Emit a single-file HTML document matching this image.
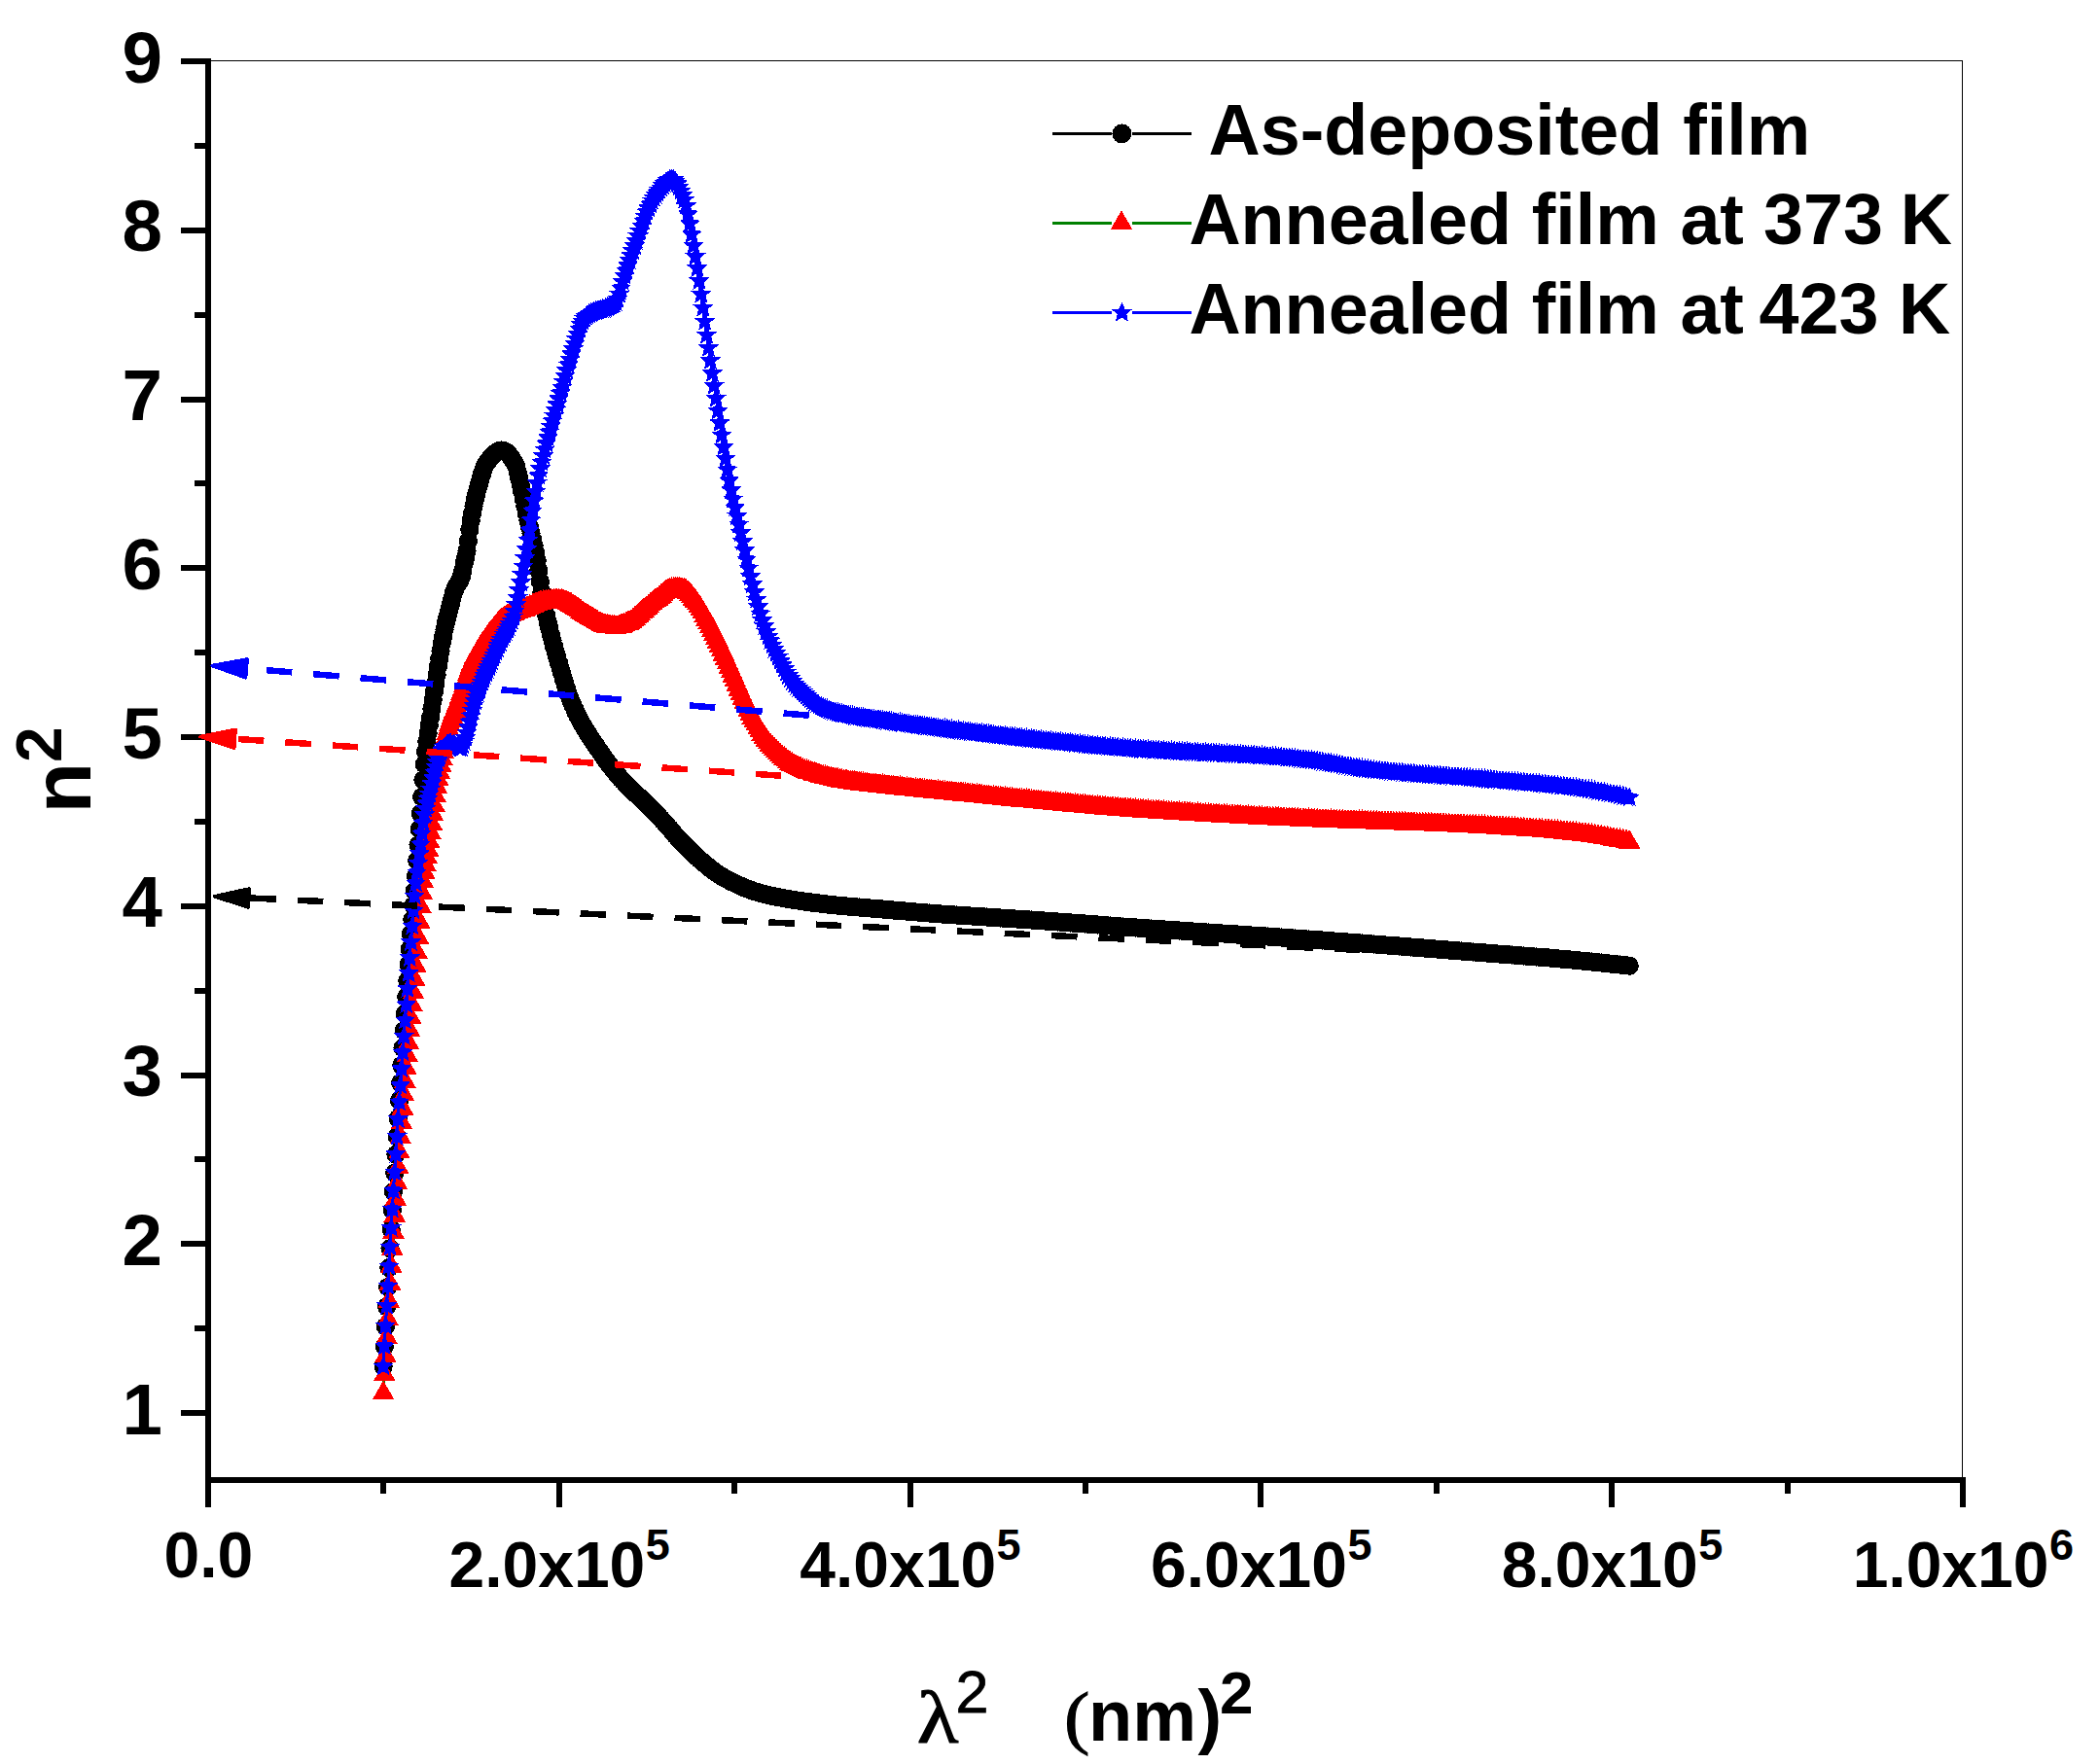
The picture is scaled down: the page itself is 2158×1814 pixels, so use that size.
<!DOCTYPE html><html><head><meta charset="utf-8"><title>n2 vs lambda2</title>
<style>html,body{margin:0;padding:0;background:#fff}svg{display:block}rect,path,circle,line,polyline{shape-rendering:crispEdges}text{font-family:"Liberation Sans",sans-serif;font-weight:bold;fill:#000}.ser{font-family:"Liberation Serif",serif;font-weight:normal}.reg{font-weight:normal}</style></head><body>
<svg width="2158" height="1814" viewBox="0 0 2158 1814">
<rect width="2158" height="1814" fill="#fff"/>
<defs>
<marker id="mc" markerWidth="24" markerHeight="24" refX="12" refY="12" markerUnits="userSpaceOnUse" overflow="visible"><circle cx="12" cy="12" r="9.6" fill="#000"/></marker>
<marker id="mt" markerWidth="26" markerHeight="26" refX="13" refY="13" markerUnits="userSpaceOnUse" overflow="visible"><path transform="translate(13,13)" d="M0,-13.07L11.30,6.53L-11.30,6.53Z" fill="#f00"/></marker>
<marker id="ms" markerWidth="26" markerHeight="26" refX="13" refY="13" markerUnits="userSpaceOnUse" overflow="visible"><path transform="translate(13,13)" d="M0.00,-11.20L2.96,-4.08L10.65,-3.46L4.79,1.56L6.58,9.06L0.00,5.04L-6.58,9.06L-4.79,1.56L-10.65,-3.46L-2.96,-4.08Z" fill="#00f"/></marker>
</defs>
<rect x="217" y="62" width="1801" height="1.3" fill="#000"/>
<rect x="2017" y="62" width="1.3" height="1458" fill="#000"/>
<polyline fill="none" stroke="#000" stroke-width="3" stroke-linejoin="round" marker-start="url(#mc)" marker-mid="url(#mc)" marker-end="url(#mc)" points="394.1,1405.3 395.3,1384.6 396.4,1364.1 397.6,1343.7 398.7,1323.6 399.9,1303.6 401.0,1283.7 402.2,1264.1 403.4,1244.6 404.5,1225.3 405.7,1206.3 406.9,1187.4 408.1,1168.7 409.3,1150.2 410.5,1131.8 411.6,1113.6 412.8,1095.5 414.0,1077.6 415.2,1059.9 416.5,1042.5 417.7,1025.3 418.9,1008.5 420.1,992.0 421.3,975.9 422.5,960.5 423.8,945.8 425.0,931.2 426.2,916.4 427.5,901.0 428.7,885.1 430.0,868.9 431.2,852.6 432.5,836.5 433.7,819.4 435.0,802.1 436.3,786.0 437.5,772.8 438.8,762.5 440.1,753.7 441.3,745.6 442.6,737.4 443.9,728.8 445.2,720.0 446.5,711.3 447.8,702.6 449.1,694.0 450.4,685.5 451.7,677.3 453.0,669.3 454.3,661.4 455.7,653.9 457.0,647.2 458.3,641.2 459.6,635.7 461.0,630.5 462.3,625.4 463.6,620.3 465.0,614.9 466.3,609.7 467.7,605.8 469.0,603.0 470.4,600.9 471.8,598.8 473.1,596.2 474.5,592.7 475.9,586.5 477.2,579.3 478.6,573.3 480.0,566.5 481.4,556.5 482.8,544.8 484.2,535.4 485.6,527.5 487.0,520.3 488.4,513.8 489.8,507.9 491.2,502.6 492.6,497.7 494.0,492.8 495.5,487.7 496.9,483.1 498.3,479.4 499.8,477.0 501.2,474.9 502.6,473.0 504.1,471.1 505.5,469.4 507.0,467.9 508.4,466.5 509.9,465.3 511.4,464.4 512.8,463.7 514.3,463.2 515.8,463.0 517.3,463.2 518.7,463.7 520.2,464.6 521.7,465.9 523.2,467.5 524.7,469.4 526.2,471.5 527.7,473.9 529.2,476.5 530.7,479.7 532.2,485.1 533.7,491.8 535.3,498.6 536.8,505.5 538.3,512.9 539.8,520.5 541.4,528.1 542.9,535.3 544.5,542.1 546.0,548.5 547.6,554.7 549.1,561.3 550.7,568.4 552.2,576.6 553.8,586.9 555.4,598.2 556.9,608.9 558.5,617.6 560.1,625.5 561.7,632.8 563.3,639.7 564.8,646.3 566.4,652.7 568.0,658.9 569.6,664.8 571.2,670.5 572.8,676.1 574.5,681.5 576.1,687.1 577.7,692.5 579.3,698.0 580.9,703.2 582.6,708.3 584.2,713.1 585.8,717.6 587.5,721.7 589.1,725.6 590.8,729.4 592.4,732.9 594.1,736.4 595.7,739.6 597.4,742.7 599.1,745.7 600.7,748.5 602.4,751.3 604.1,753.9 605.7,756.5 607.4,759.0 609.1,761.5 610.8,764.0 612.5,766.6 614.2,769.1 615.9,771.6 617.6,774.1 619.3,776.6 621.0,779.0 622.7,781.4 624.5,783.8 626.2,786.1 627.9,788.3 629.6,790.5 631.4,792.6 633.1,794.7 634.9,796.8 636.6,798.8 638.3,800.8 640.1,802.7 641.9,804.6 643.6,806.5 645.4,808.3 647.1,810.2 648.9,811.9 650.7,813.7 652.5,815.3 654.2,816.9 656.0,818.5 657.8,820.0 659.6,821.6 661.4,823.3 663.2,825.1 665.0,826.8 666.8,828.6 668.6,830.5 670.4,832.3 672.2,834.2 674.1,836.1 675.9,838.0 677.7,840.0 679.5,841.9 681.4,843.9 683.2,845.9 685.1,848.0 686.9,850.2 688.8,852.3 690.6,854.5 692.5,856.6 694.3,858.8 696.2,860.9 698.1,862.9 699.9,864.9 701.8,866.9 703.7,868.8 705.6,870.7 707.4,872.6 709.3,874.5 711.2,876.3 713.1,878.2 715.0,879.9 716.9,881.7 718.8,883.4 720.7,885.0 722.7,886.7 724.6,888.3 726.5,889.9 728.4,891.5 730.3,893.1 732.3,894.6 734.2,896.0 736.2,897.4 738.1,898.8 740.0,900.0 742.0,901.2 744.0,902.4 745.9,903.5 747.9,904.5 749.8,905.6 751.8,906.6 753.8,907.5 755.7,908.5 757.7,909.4 759.7,910.3 761.7,911.1 763.7,912.0 765.7,912.9 767.7,913.7 769.7,914.5 771.7,915.3 773.7,916.0 775.7,916.7 777.7,917.3 779.7,917.9 781.8,918.5 783.8,919.0 785.8,919.5 787.8,920.0 789.9,920.5 791.9,920.9 794.0,921.4 796.0,921.8 798.1,922.2 800.1,922.6 802.2,923.0 804.2,923.4 806.3,923.8 808.4,924.1 810.4,924.5 812.5,924.8 814.6,925.2 816.7,925.5 818.8,925.8 820.9,926.1 823.0,926.4 825.1,926.8 827.2,927.1 829.3,927.4 831.4,927.6 833.5,927.9 835.6,928.2 837.7,928.5 839.8,928.7 842.0,929.0 844.1,929.3 846.2,929.5 848.4,929.8 850.5,930.0 852.7,930.2 854.8,930.5 857.0,930.7 859.1,930.9 861.3,931.1 863.4,931.3 865.6,931.5 867.8,931.7 870.0,931.9 872.1,932.1 874.3,932.3 876.5,932.5 878.7,932.7 880.9,932.9 883.1,933.0 885.3,933.2 887.5,933.4 889.7,933.6 891.9,933.7 894.1,933.9 896.3,934.1 898.5,934.3 900.8,934.5 903.0,934.7 905.2,934.8 907.5,935.0 909.7,935.2 911.9,935.4 914.2,935.6 916.4,935.8 918.7,936.0 920.9,936.2 923.2,936.4 925.5,936.6 927.7,936.8 930.0,937.0 932.3,937.2 934.6,937.4 936.8,937.6 939.1,937.7 941.4,937.9 943.7,938.1 946.0,938.3 948.3,938.5 950.6,938.7 952.9,938.9 955.2,939.0 957.5,939.2 959.9,939.4 962.2,939.6 964.5,939.7 966.8,939.9 969.2,940.1 971.5,940.2 973.8,940.4 976.2,940.5 978.5,940.7 980.9,940.9 983.2,941.0 985.6,941.2 988.0,941.3 990.3,941.5 992.7,941.6 995.1,941.8 997.4,941.9 999.8,942.1 1002.2,942.2 1004.6,942.4 1007.0,942.5 1009.4,942.7 1011.8,942.9 1014.2,943.0 1016.6,943.2 1019.0,943.3 1021.4,943.5 1023.8,943.7 1026.2,943.8 1028.7,944.0 1031.1,944.1 1033.5,944.3 1035.9,944.5 1038.4,944.6 1040.8,944.8 1043.3,944.9 1045.7,945.1 1048.2,945.3 1050.6,945.4 1053.1,945.6 1055.5,945.7 1058.0,945.9 1060.5,946.1 1063.0,946.2 1065.4,946.4 1067.9,946.6 1070.4,946.7 1072.9,946.9 1075.4,947.1 1077.9,947.3 1080.4,947.4 1082.9,947.6 1085.4,947.8 1087.9,948.0 1090.4,948.1 1092.9,948.3 1095.4,948.5 1098.0,948.7 1100.5,948.9 1103.0,949.1 1105.6,949.3 1108.1,949.4 1110.6,949.6 1113.2,949.8 1115.7,950.0 1118.3,950.2 1120.8,950.4 1123.4,950.6 1126.0,950.8 1128.5,951.0 1131.1,951.2 1133.7,951.4 1136.2,951.6 1138.8,951.8 1141.4,952.0 1144.0,952.2 1146.6,952.4 1149.2,952.6 1151.8,952.8 1154.4,953.0 1157.0,953.1 1159.6,953.3 1162.2,953.5 1164.8,953.7 1167.5,953.9 1170.1,954.1 1172.7,954.3 1175.4,954.5 1178.0,954.7 1180.6,954.8 1183.3,955.0 1185.9,955.2 1188.6,955.4 1191.2,955.6 1193.9,955.8 1196.5,955.9 1199.2,956.1 1201.9,956.3 1204.5,956.5 1207.2,956.7 1209.9,956.8 1212.6,957.0 1215.3,957.2 1218.0,957.4 1220.6,957.6 1223.3,957.7 1226.0,957.9 1228.8,958.1 1231.5,958.3 1234.2,958.5 1236.9,958.6 1239.6,958.8 1242.3,959.0 1245.1,959.2 1247.8,959.4 1250.5,959.5 1253.3,959.7 1256.0,959.9 1258.7,960.1 1261.5,960.3 1264.2,960.4 1267.0,960.6 1269.7,960.8 1272.5,961.0 1275.3,961.2 1278.0,961.4 1280.8,961.5 1283.6,961.7 1286.4,961.9 1289.2,962.1 1291.9,962.3 1294.7,962.5 1297.5,962.6 1300.3,962.8 1303.1,963.0 1305.9,963.2 1308.7,963.4 1311.6,963.6 1314.4,963.8 1317.2,964.0 1320.0,964.2 1322.8,964.4 1325.7,964.6 1328.5,964.8 1331.3,965.0 1334.2,965.2 1337.0,965.4 1339.9,965.6 1342.7,965.8 1345.6,966.0 1348.4,966.2 1351.3,966.4 1354.2,966.6 1357.0,966.8 1359.9,967.0 1362.8,967.2 1365.7,967.5 1368.6,967.7 1371.4,967.9 1374.3,968.1 1377.2,968.3 1380.1,968.5 1383.0,968.8 1385.9,969.0 1388.9,969.2 1391.8,969.4 1394.7,969.6 1397.6,969.9 1400.5,970.1 1403.5,970.3 1406.4,970.5 1409.3,970.8 1412.3,971.0 1415.2,971.2 1418.2,971.4 1421.1,971.7 1424.1,971.9 1427.0,972.1 1430.0,972.4 1432.9,972.6 1435.9,972.8 1438.9,973.0 1441.8,973.3 1444.8,973.5 1447.8,973.7 1450.8,974.0 1453.8,974.2 1456.8,974.5 1459.8,974.7 1462.8,974.9 1465.8,975.2 1468.8,975.4 1471.8,975.6 1474.8,975.9 1477.8,976.1 1480.8,976.3 1483.9,976.6 1486.9,976.8 1489.9,977.1 1493.0,977.3 1496.0,977.5 1499.1,977.8 1502.1,978.0 1505.2,978.3 1508.2,978.5 1511.3,978.7 1514.3,979.0 1517.4,979.2 1520.5,979.5 1523.5,979.7 1526.6,979.9 1529.7,980.2 1532.8,980.4 1535.9,980.6 1538.9,980.9 1542.0,981.1 1545.1,981.3 1548.2,981.6 1551.3,981.8 1554.5,982.0 1557.6,982.3 1560.7,982.5 1563.8,982.8 1566.9,983.0 1570.0,983.2 1573.2,983.5 1576.3,983.7 1579.4,984.0 1582.6,984.2 1585.7,984.5 1588.9,984.7 1592.0,985.0 1595.2,985.3 1598.3,985.5 1601.5,985.8 1604.7,986.1 1607.8,986.3 1611.0,986.6 1614.2,986.9 1617.4,987.2 1620.6,987.5 1623.7,987.8 1626.9,988.1 1630.1,988.4 1633.3,988.7 1636.5,989.0 1639.7,989.4 1642.9,989.7 1646.2,990.0 1649.4,990.4 1652.6,990.7 1655.8,991.1 1659.0,991.4 1662.3,991.8 1665.5,992.1 1668.8,992.5 1672.0,992.8 1675.2,993.2"/>
<polyline fill="none" stroke="#008000" stroke-width="3" stroke-linejoin="round" marker-start="url(#mt)" marker-mid="url(#mt)" marker-end="url(#mt)" points="394.1,1432.7 395.3,1413.4 396.4,1394.3 397.6,1375.4 398.7,1356.7 399.9,1338.2 401.0,1320.0 402.2,1302.1 403.4,1284.4 404.5,1267.1 405.7,1250.0 406.9,1233.2 408.1,1216.7 409.3,1200.6 410.5,1184.8 411.6,1169.4 412.8,1154.4 414.0,1140.0 415.2,1125.9 416.5,1112.3 417.7,1098.9 418.9,1085.8 420.1,1072.8 421.3,1059.9 422.5,1046.9 423.8,1033.9 425.0,1020.8 426.2,1007.3 427.5,993.6 428.7,979.4 430.0,964.1 431.2,948.0 432.5,932.3 433.7,918.1 435.0,906.6 436.3,897.3 437.5,889.3 438.8,881.7 440.1,874.1 441.3,865.6 442.6,856.5 443.9,847.1 445.2,837.8 446.5,828.2 447.8,818.6 449.1,809.6 450.4,801.5 451.7,794.1 453.0,787.0 454.3,780.1 455.7,773.1 457.0,766.1 458.3,759.6 459.6,754.2 461.0,749.6 462.3,745.4 463.6,741.5 465.0,737.8 466.3,734.4 467.7,731.0 469.0,727.7 470.4,724.3 471.8,720.8 473.1,717.1 474.5,713.2 475.9,709.3 477.2,705.3 478.6,701.3 480.0,697.3 481.4,693.3 482.8,689.4 484.2,685.7 485.6,682.1 487.0,678.8 488.4,675.7 489.8,672.9 491.2,670.3 492.6,667.9 494.0,665.6 495.5,663.3 496.9,661.2 498.3,659.2 499.8,657.2 501.2,655.3 502.6,653.4 504.1,651.5 505.5,649.7 507.0,647.8 508.4,645.9 509.9,644.1 511.4,642.3 512.8,640.6 514.3,639.1 515.8,637.7 517.3,636.5 518.7,635.5 520.2,634.6 521.7,633.8 523.2,633.1 524.7,632.3 526.2,631.7 527.7,631.0 529.2,630.4 530.7,629.9 532.2,629.3 533.7,628.7 535.3,628.2 536.8,627.6 538.3,627.0 539.8,626.4 541.4,625.8 542.9,625.1 544.5,624.4 546.0,623.8 547.6,623.1 549.1,622.4 550.7,621.7 552.2,621.1 553.8,620.5 555.4,620.0 556.9,619.6 558.5,619.2 560.1,619.0 561.7,618.8 563.3,618.6 564.8,618.4 566.4,618.2 568.0,618.1 569.6,618.0 571.2,617.9 572.8,617.8 574.5,617.8 576.1,617.9 577.7,618.1 579.3,618.5 580.9,619.0 582.6,619.7 584.2,620.4 585.8,621.3 587.5,622.2 589.1,623.2 590.8,624.3 592.4,625.4 594.1,626.6 595.7,627.8 597.4,629.0 599.1,630.2 600.7,631.4 602.4,632.5 604.1,633.6 605.7,634.6 607.4,635.6 609.1,636.6 610.8,637.6 612.5,638.7 614.2,639.8 615.9,640.9 617.6,641.8 619.3,642.6 621.0,643.3 622.7,643.7 624.5,644.0 626.2,644.3 627.9,644.6 629.6,644.8 631.4,644.9 633.1,645.0 634.9,644.9 636.6,644.6 638.3,644.1 640.1,643.5 641.9,642.7 643.6,641.8 645.4,641.0 647.1,640.1 648.9,639.0 650.7,637.7 652.5,636.2 654.2,634.6 656.0,633.0 657.8,631.3 659.6,629.6 661.4,628.0 663.2,626.5 665.0,625.0 666.8,623.5 668.6,621.9 670.4,620.4 672.2,618.9 674.1,617.4 675.9,616.0 677.7,614.6 679.5,613.1 681.4,611.5 683.2,609.9 685.1,608.5 686.9,607.3 688.8,606.6 690.6,606.2 692.5,605.9 694.3,605.7 696.2,605.6 698.1,605.7 699.9,606.0 701.8,606.5 703.7,607.0 705.6,608.0 707.4,609.5 709.3,611.4 711.2,613.6 713.1,616.0 715.0,618.4 716.9,620.9 718.8,623.5 720.7,626.5 722.7,629.8 724.6,633.3 726.5,637.0 728.4,640.7 730.3,644.5 732.3,648.2 734.2,652.1 736.2,656.1 738.1,660.2 740.0,664.4 742.0,668.7 744.0,673.0 745.9,677.4 747.9,681.9 749.8,686.3 751.8,690.8 753.8,695.2 755.7,699.8 757.7,704.5 759.7,709.2 761.7,713.8 763.7,718.2 765.7,722.3 767.7,726.4 769.7,730.4 771.7,734.2 773.7,738.0 775.7,741.5 777.7,744.9 779.7,748.3 781.8,751.7 783.8,755.0 785.8,758.1 787.8,761.1 789.9,763.9 791.9,766.4 794.0,768.6 796.0,770.7 798.1,772.7 800.1,774.7 802.2,776.6 804.2,778.5 806.3,780.2 808.4,781.9 810.4,783.5 812.5,785.0 814.6,786.3 816.7,787.6 818.8,788.8 820.9,789.8 823.0,790.7 825.1,791.6 827.2,792.4 829.3,793.2 831.4,794.0 833.5,794.7 835.6,795.5 837.7,796.1 839.8,796.8 842.0,797.4 844.1,798.1 846.2,798.6 848.4,799.2 850.5,799.7 852.7,800.3 854.8,800.8 857.0,801.2 859.1,801.7 861.3,802.1 863.4,802.6 865.6,803.0 867.8,803.4 870.0,803.7 872.1,804.1 874.3,804.5 876.5,804.8 878.7,805.1 880.9,805.4 883.1,805.7 885.3,806.0 887.5,806.3 889.7,806.6 891.9,806.8 894.1,807.1 896.3,807.3 898.5,807.6 900.8,807.8 903.0,808.1 905.2,808.3 907.5,808.5 909.7,808.8 911.9,809.0 914.2,809.3 916.4,809.5 918.7,809.8 920.9,810.0 923.2,810.3 925.5,810.5 927.7,810.7 930.0,811.0 932.3,811.2 934.6,811.5 936.8,811.7 939.1,811.9 941.4,812.1 943.7,812.4 946.0,812.6 948.3,812.8 950.6,813.1 952.9,813.3 955.2,813.5 957.5,813.7 959.9,814.0 962.2,814.2 964.5,814.4 966.8,814.6 969.2,814.9 971.5,815.1 973.8,815.3 976.2,815.6 978.5,815.8 980.9,816.0 983.2,816.2 985.6,816.5 988.0,816.7 990.3,817.0 992.7,817.2 995.1,817.4 997.4,817.7 999.8,817.9 1002.2,818.2 1004.6,818.4 1007.0,818.6 1009.4,818.9 1011.8,819.1 1014.2,819.4 1016.6,819.6 1019.0,819.9 1021.4,820.1 1023.8,820.3 1026.2,820.6 1028.7,820.8 1031.1,821.1 1033.5,821.3 1035.9,821.6 1038.4,821.8 1040.8,822.0 1043.3,822.3 1045.7,822.5 1048.2,822.8 1050.6,823.0 1053.1,823.2 1055.5,823.5 1058.0,823.7 1060.5,823.9 1063.0,824.2 1065.4,824.4 1067.9,824.6 1070.4,824.9 1072.9,825.1 1075.4,825.4 1077.9,825.6 1080.4,825.8 1082.9,826.1 1085.4,826.3 1087.9,826.5 1090.4,826.8 1092.9,827.0 1095.4,827.3 1098.0,827.5 1100.5,827.7 1103.0,828.0 1105.6,828.2 1108.1,828.4 1110.6,828.7 1113.2,828.9 1115.7,829.1 1118.3,829.4 1120.8,829.6 1123.4,829.8 1126.0,830.1 1128.5,830.3 1131.1,830.5 1133.7,830.7 1136.2,831.0 1138.8,831.2 1141.4,831.4 1144.0,831.6 1146.6,831.8 1149.2,832.0 1151.8,832.2 1154.4,832.4 1157.0,832.6 1159.6,832.8 1162.2,833.0 1164.8,833.2 1167.5,833.4 1170.1,833.6 1172.7,833.8 1175.4,834.0 1178.0,834.1 1180.6,834.3 1183.3,834.5 1185.9,834.7 1188.6,834.9 1191.2,835.0 1193.9,835.2 1196.5,835.4 1199.2,835.6 1201.9,835.7 1204.5,835.9 1207.2,836.1 1209.9,836.2 1212.6,836.4 1215.3,836.6 1218.0,836.7 1220.6,836.9 1223.3,837.1 1226.0,837.2 1228.8,837.4 1231.5,837.5 1234.2,837.7 1236.9,837.9 1239.6,838.0 1242.3,838.2 1245.1,838.3 1247.8,838.5 1250.5,838.6 1253.3,838.8 1256.0,839.0 1258.7,839.1 1261.5,839.3 1264.2,839.4 1267.0,839.6 1269.7,839.7 1272.5,839.8 1275.3,840.0 1278.0,840.1 1280.8,840.3 1283.6,840.4 1286.4,840.6 1289.2,840.7 1291.9,840.9 1294.7,841.0 1297.5,841.1 1300.3,841.3 1303.1,841.4 1305.9,841.6 1308.7,841.7 1311.6,841.8 1314.4,842.0 1317.2,842.1 1320.0,842.2 1322.8,842.4 1325.7,842.5 1328.5,842.6 1331.3,842.8 1334.2,842.9 1337.0,843.0 1339.9,843.2 1342.7,843.3 1345.6,843.4 1348.4,843.5 1351.3,843.7 1354.2,843.8 1357.0,843.9 1359.9,844.0 1362.8,844.1 1365.7,844.3 1368.6,844.4 1371.4,844.5 1374.3,844.6 1377.2,844.7 1380.1,844.8 1383.0,844.9 1385.9,845.0 1388.9,845.1 1391.8,845.2 1394.7,845.3 1397.6,845.4 1400.5,845.5 1403.5,845.6 1406.4,845.7 1409.3,845.8 1412.3,845.9 1415.2,846.0 1418.2,846.1 1421.1,846.2 1424.1,846.3 1427.0,846.4 1430.0,846.5 1432.9,846.6 1435.9,846.7 1438.9,846.8 1441.8,846.9 1444.8,847.0 1447.8,847.1 1450.8,847.2 1453.8,847.3 1456.8,847.4 1459.8,847.5 1462.8,847.6 1465.8,847.7 1468.8,847.8 1471.8,847.9 1474.8,848.1 1477.8,848.2 1480.8,848.3 1483.9,848.4 1486.9,848.5 1489.9,848.7 1493.0,848.8 1496.0,848.9 1499.1,849.1 1502.1,849.2 1505.2,849.3 1508.2,849.5 1511.3,849.6 1514.3,849.8 1517.4,849.9 1520.5,850.1 1523.5,850.3 1526.6,850.4 1529.7,850.6 1532.8,850.7 1535.9,850.9 1538.9,851.1 1542.0,851.3 1545.1,851.4 1548.2,851.6 1551.3,851.8 1554.5,852.0 1557.6,852.2 1560.7,852.4 1563.8,852.6 1566.9,852.8 1570.0,853.0 1573.2,853.2 1576.3,853.5 1579.4,853.7 1582.6,853.9 1585.7,854.2 1588.9,854.4 1592.0,854.7 1595.2,854.9 1598.3,855.2 1601.5,855.5 1604.7,855.8 1607.8,856.1 1611.0,856.4 1614.2,856.7 1617.4,857.0 1620.6,857.3 1623.7,857.7 1626.9,858.1 1630.1,858.5 1633.3,858.9 1636.5,859.4 1639.7,859.8 1642.9,860.3 1646.2,860.9 1649.4,861.4 1652.6,861.9 1655.8,862.5 1659.0,863.1 1662.3,863.6 1665.5,864.2 1668.8,864.8 1672.0,865.4 1675.2,866.1"/>
<polyline fill="none" stroke="#00f" stroke-width="3" stroke-linejoin="round" marker-start="url(#ms)" marker-mid="url(#ms)" marker-end="url(#ms)" points="394.1,1405.3 395.3,1384.2 396.4,1363.4 397.6,1342.8 398.7,1322.4 399.9,1302.3 401.0,1282.4 402.2,1262.7 403.4,1243.4 404.5,1224.3 405.7,1205.5 406.9,1187.0 408.1,1168.8 409.3,1150.9 410.5,1133.3 411.6,1116.1 412.8,1099.1 414.0,1082.3 415.2,1065.7 416.5,1049.3 417.7,1033.1 418.9,1017.0 420.1,1001.0 421.3,985.0 422.5,968.9 423.8,952.4 425.0,936.3 426.2,921.4 427.5,908.2 428.7,897.2 430.0,887.4 431.2,878.0 432.5,868.2 433.7,857.2 435.0,846.3 436.3,838.0 437.5,831.6 438.8,826.1 440.1,821.2 441.3,816.4 442.6,811.5 443.9,806.0 445.2,800.1 446.5,794.2 447.8,788.5 449.1,783.6 450.4,779.8 451.7,776.8 453.0,774.3 454.3,772.1 455.7,770.4 457.0,768.9 458.3,767.6 459.6,766.3 461.0,765.4 462.3,765.0 463.6,765.1 465.0,765.6 466.3,766.2 467.7,766.9 469.0,767.5 470.4,768.1 471.8,768.8 473.1,769.2 474.5,769.1 475.9,766.5 477.2,762.7 478.6,758.7 480.0,753.8 481.4,748.1 482.8,742.2 484.2,736.2 485.6,730.5 487.0,725.5 488.4,721.0 489.8,716.7 491.2,712.7 492.6,708.8 494.0,705.1 495.5,701.6 496.9,698.2 498.3,695.0 499.8,692.0 501.2,689.0 502.6,686.0 504.1,683.0 505.5,679.9 507.0,676.8 508.4,673.6 509.9,670.3 511.4,667.1 512.8,663.9 514.3,660.8 515.8,657.9 517.3,655.2 518.7,652.6 520.2,650.2 521.7,647.6 523.2,644.9 524.7,641.9 526.2,638.4 527.7,634.3 529.2,628.6 530.7,621.8 532.2,614.7 533.7,607.0 535.3,598.9 536.8,590.8 538.3,582.5 539.8,573.9 541.4,564.9 542.9,555.3 544.5,545.2 546.0,535.1 547.6,525.2 549.1,515.1 550.7,505.5 552.2,496.8 553.8,489.1 555.4,482.0 556.9,475.3 558.5,468.8 560.1,462.3 561.7,456.1 563.3,450.1 564.8,444.2 566.4,438.5 568.0,433.1 569.6,427.5 571.2,421.8 572.8,416.0 574.5,410.1 576.1,404.2 577.7,398.4 579.3,392.5 580.9,386.7 582.6,381.0 584.2,375.2 585.8,369.6 587.5,364.1 589.1,358.8 590.8,353.6 592.4,348.5 594.1,343.5 595.7,338.3 597.4,333.7 599.1,330.5 600.7,327.7 602.4,325.6 604.1,324.2 605.7,323.1 607.4,322.2 609.1,321.4 610.8,320.7 612.5,320.1 614.2,319.5 615.9,319.0 617.6,318.6 619.3,318.1 621.0,317.7 622.7,317.1 624.5,316.4 626.2,315.6 627.9,314.8 629.6,313.8 631.4,312.5 633.1,310.9 634.9,307.7 636.6,302.5 638.3,296.2 640.1,289.6 641.9,283.5 643.6,278.2 645.4,273.1 647.1,268.0 648.9,263.0 650.7,258.0 652.5,253.0 654.2,248.0 656.0,242.9 657.8,237.8 659.6,232.4 661.4,227.2 663.2,222.4 665.0,218.1 666.8,214.0 668.6,210.1 670.4,206.4 672.2,203.3 674.1,200.6 675.9,198.1 677.7,195.7 679.5,193.3 681.4,191.0 683.2,189.0 685.1,187.2 686.9,185.9 688.8,184.9 690.6,184.5 692.5,184.9 694.3,186.5 696.2,189.0 698.1,192.4 699.9,196.4 701.8,200.8 703.7,205.5 705.6,211.7 707.4,220.1 709.3,230.1 711.2,241.1 713.1,252.6 715.0,263.9 716.9,275.9 718.8,288.9 720.7,302.6 722.7,316.6 724.6,330.7 726.5,344.6 728.4,357.8 730.3,370.9 732.3,383.9 734.2,396.8 736.2,409.7 738.1,422.4 740.0,435.0 742.0,447.4 744.0,459.6 745.9,471.5 747.9,483.2 749.8,494.1 751.8,504.0 753.8,513.3 755.7,522.1 757.7,530.7 759.7,539.3 761.7,547.9 763.7,556.9 765.7,566.0 767.7,575.2 769.7,584.3 771.7,592.9 773.7,601.0 775.7,608.9 777.7,616.6 779.7,624.0 781.8,631.2 783.8,637.8 785.8,643.9 787.8,649.5 789.9,654.5 791.9,659.1 794.0,663.4 796.0,667.6 798.1,671.7 800.1,675.9 802.2,680.0 804.2,684.0 806.3,687.9 808.4,691.6 810.4,695.0 812.5,698.0 814.6,700.8 816.7,703.4 818.8,705.7 820.9,707.9 823.0,709.9 825.1,711.9 827.2,713.9 829.3,715.8 831.4,717.6 833.5,719.4 835.6,721.1 837.7,722.7 839.8,724.2 842.0,725.5 844.1,726.7 846.2,727.7 848.4,728.6 850.5,729.5 852.7,730.3 854.8,731.0 857.0,731.7 859.1,732.4 861.3,733.0 863.4,733.5 865.6,734.1 867.8,734.6 870.0,735.1 872.1,735.5 874.3,735.9 876.5,736.4 878.7,736.8 880.9,737.1 883.1,737.5 885.3,737.9 887.5,738.2 889.7,738.5 891.9,738.8 894.1,739.2 896.3,739.5 898.5,739.8 900.8,740.1 903.0,740.4 905.2,740.7 907.5,741.0 909.7,741.3 911.9,741.6 914.2,741.9 916.4,742.2 918.7,742.5 920.9,742.8 923.2,743.1 925.5,743.5 927.7,743.8 930.0,744.1 932.3,744.4 934.6,744.7 936.8,745.0 939.1,745.4 941.4,745.7 943.7,746.0 946.0,746.3 948.3,746.6 950.6,746.9 952.9,747.2 955.2,747.5 957.5,747.8 959.9,748.1 962.2,748.4 964.5,748.7 966.8,749.0 969.2,749.3 971.5,749.6 973.8,749.9 976.2,750.2 978.5,750.5 980.9,750.8 983.2,751.1 985.6,751.4 988.0,751.7 990.3,752.0 992.7,752.3 995.1,752.6 997.4,752.9 999.8,753.1 1002.2,753.4 1004.6,753.7 1007.0,754.0 1009.4,754.3 1011.8,754.6 1014.2,754.9 1016.6,755.2 1019.0,755.4 1021.4,755.7 1023.8,756.0 1026.2,756.3 1028.7,756.6 1031.1,756.8 1033.5,757.1 1035.9,757.4 1038.4,757.7 1040.8,757.9 1043.3,758.2 1045.7,758.5 1048.2,758.7 1050.6,759.0 1053.1,759.3 1055.5,759.5 1058.0,759.8 1060.5,760.1 1063.0,760.3 1065.4,760.6 1067.9,760.8 1070.4,761.1 1072.9,761.4 1075.4,761.6 1077.9,761.9 1080.4,762.1 1082.9,762.4 1085.4,762.7 1087.9,762.9 1090.4,763.2 1092.9,763.5 1095.4,763.7 1098.0,764.0 1100.5,764.2 1103.0,764.5 1105.6,764.8 1108.1,765.0 1110.6,765.3 1113.2,765.5 1115.7,765.8 1118.3,766.0 1120.8,766.3 1123.4,766.5 1126.0,766.8 1128.5,767.0 1131.1,767.3 1133.7,767.5 1136.2,767.7 1138.8,768.0 1141.4,768.2 1144.0,768.4 1146.6,768.6 1149.2,768.9 1151.8,769.1 1154.4,769.3 1157.0,769.5 1159.6,769.7 1162.2,769.9 1164.8,770.1 1167.5,770.3 1170.1,770.5 1172.7,770.7 1175.4,770.9 1178.0,771.0 1180.6,771.2 1183.3,771.4 1185.9,771.6 1188.6,771.7 1191.2,771.9 1193.9,772.0 1196.5,772.2 1199.2,772.3 1201.9,772.5 1204.5,772.6 1207.2,772.8 1209.9,772.9 1212.6,773.0 1215.3,773.2 1218.0,773.3 1220.6,773.4 1223.3,773.6 1226.0,773.7 1228.8,773.8 1231.5,774.0 1234.2,774.1 1236.9,774.2 1239.6,774.4 1242.3,774.5 1245.1,774.6 1247.8,774.7 1250.5,774.9 1253.3,775.0 1256.0,775.1 1258.7,775.3 1261.5,775.4 1264.2,775.5 1267.0,775.7 1269.7,775.8 1272.5,776.0 1275.3,776.1 1278.0,776.3 1280.8,776.4 1283.6,776.6 1286.4,776.7 1289.2,776.9 1291.9,777.1 1294.7,777.3 1297.5,777.4 1300.3,777.6 1303.1,777.8 1305.9,778.0 1308.7,778.2 1311.6,778.4 1314.4,778.6 1317.2,778.8 1320.0,779.1 1322.8,779.3 1325.7,779.6 1328.5,779.8 1331.3,780.1 1334.2,780.4 1337.0,780.7 1339.9,781.0 1342.7,781.3 1345.6,781.6 1348.4,782.0 1351.3,782.3 1354.2,782.8 1357.0,783.2 1359.9,783.6 1362.8,784.1 1365.7,784.6 1368.6,785.1 1371.4,785.6 1374.3,786.1 1377.2,786.6 1380.1,787.1 1383.0,787.6 1385.9,788.1 1388.9,788.6 1391.8,789.1 1394.7,789.6 1397.6,790.0 1400.5,790.5 1403.5,790.9 1406.4,791.3 1409.3,791.6 1412.3,792.0 1415.2,792.3 1418.2,792.6 1421.1,792.9 1424.1,793.2 1427.0,793.5 1430.0,793.7 1432.9,794.0 1435.9,794.3 1438.9,794.5 1441.8,794.8 1444.8,795.0 1447.8,795.3 1450.8,795.5 1453.8,795.7 1456.8,796.0 1459.8,796.2 1462.8,796.4 1465.8,796.6 1468.8,796.9 1471.8,797.1 1474.8,797.3 1477.8,797.5 1480.8,797.8 1483.9,798.0 1486.9,798.2 1489.9,798.4 1493.0,798.7 1496.0,798.9 1499.1,799.1 1502.1,799.4 1505.2,799.6 1508.2,799.9 1511.3,800.1 1514.3,800.4 1517.4,800.6 1520.5,800.9 1523.5,801.2 1526.6,801.4 1529.7,801.7 1532.8,801.9 1535.9,802.2 1538.9,802.4 1542.0,802.7 1545.1,802.9 1548.2,803.2 1551.3,803.4 1554.5,803.7 1557.6,803.9 1560.7,804.2 1563.8,804.4 1566.9,804.7 1570.0,804.9 1573.2,805.2 1576.3,805.5 1579.4,805.8 1582.6,806.1 1585.7,806.4 1588.9,806.7 1592.0,807.0 1595.2,807.3 1598.3,807.6 1601.5,807.9 1604.7,808.3 1607.8,808.6 1611.0,809.0 1614.2,809.4 1617.4,809.8 1620.6,810.2 1623.7,810.6 1626.9,811.1 1630.1,811.6 1633.3,812.1 1636.5,812.6 1639.7,813.2 1642.9,813.8 1646.2,814.3 1649.4,814.9 1652.6,815.6 1655.8,816.2 1659.0,816.9 1662.3,817.5 1665.5,818.2 1668.8,818.9 1672.0,819.5 1675.2,820.2"/>
<rect x="211" y="60" width="6" height="1490" fill="#000"/>
<rect x="211" y="1519" width="1810" height="6" fill="#000"/>
<rect x="186" y="1450.0" width="26" height="6" fill="#000"/>
<rect x="186" y="1276.2" width="26" height="6" fill="#000"/>
<rect x="200" y="1363.1" width="12" height="6" fill="#000"/>
<rect x="186" y="1102.5" width="26" height="6" fill="#000"/>
<rect x="200" y="1189.4" width="12" height="6" fill="#000"/>
<rect x="186" y="928.8" width="26" height="6" fill="#000"/>
<rect x="200" y="1015.6" width="12" height="6" fill="#000"/>
<rect x="186" y="755.0" width="26" height="6" fill="#000"/>
<rect x="200" y="841.9" width="12" height="6" fill="#000"/>
<rect x="186" y="581.2" width="26" height="6" fill="#000"/>
<rect x="200" y="668.1" width="12" height="6" fill="#000"/>
<rect x="186" y="407.5" width="26" height="6" fill="#000"/>
<rect x="200" y="494.4" width="12" height="6" fill="#000"/>
<rect x="186" y="233.8" width="26" height="6" fill="#000"/>
<rect x="200" y="320.6" width="12" height="6" fill="#000"/>
<rect x="186" y="60.0" width="26" height="6" fill="#000"/>
<rect x="200" y="146.9" width="12" height="6" fill="#000"/>
<rect x="211.0" y="1524" width="6" height="26" fill="#000"/>
<rect x="391.4" y="1524" width="6" height="12" fill="#000"/>
<rect x="571.8" y="1524" width="6" height="26" fill="#000"/>
<rect x="752.2" y="1524" width="6" height="12" fill="#000"/>
<rect x="932.6" y="1524" width="6" height="26" fill="#000"/>
<rect x="1113.0" y="1524" width="6" height="12" fill="#000"/>
<rect x="1293.4" y="1524" width="6" height="26" fill="#000"/>
<rect x="1473.8" y="1524" width="6" height="12" fill="#000"/>
<rect x="1654.2" y="1524" width="6" height="26" fill="#000"/>
<rect x="1834.6" y="1524" width="6" height="12" fill="#000"/>
<rect x="2015.0" y="1524" width="6" height="26" fill="#000"/>
<text x="167" y="1474.5" font-size="74.5" text-anchor="end">1</text>
<text x="167" y="1300.8" font-size="74.5" text-anchor="end">2</text>
<text x="167" y="1127.0" font-size="74.5" text-anchor="end">3</text>
<text x="167" y="953.2" font-size="74.5" text-anchor="end">4</text>
<text x="167" y="779.5" font-size="74.5" text-anchor="end">5</text>
<text x="167" y="605.8" font-size="74.5" text-anchor="end">6</text>
<text x="167" y="432.0" font-size="74.5" text-anchor="end">7</text>
<text x="167" y="258.2" font-size="74.5" text-anchor="end">8</text>
<text x="167" y="84.5" font-size="74.5" text-anchor="end">9</text>
<text x="214.4" y="1621.5" font-size="66" text-anchor="middle">0.0</text>
<text x="663.3" y="1631.5" font-size="66" text-anchor="end">2.0x10</text>
<text x="663.8" y="1603.5" font-size="45">5</text>
<text x="1024.1" y="1631.5" font-size="66" text-anchor="end">4.0x10</text>
<text x="1024.6" y="1603.5" font-size="45">5</text>
<text x="1384.9" y="1631.5" font-size="66" text-anchor="end">6.0x10</text>
<text x="1385.4" y="1603.5" font-size="45">5</text>
<text x="1745.7" y="1631.5" font-size="66" text-anchor="end">8.0x10</text>
<text x="1746.2" y="1603.5" font-size="45">5</text>
<text x="2106.5" y="1631.5" font-size="66" text-anchor="end">1.0x10</text>
<text x="2107.0" y="1603.5" font-size="45">6</text>
<text class="ser" transform="translate(942.8,1792) scale(1.1,0.95)" font-size="80" stroke="#000" stroke-width="1.2">λ</text>
<text class="reg" x="982.5" y="1761" font-size="61" stroke="#000" stroke-width="0.8">2</text>
<text class="ser" transform="translate(1094,1789.7) scale(1.1,1)" font-size="72" stroke="#000" stroke-width="1">(</text>
<text x="1119" y="1790" font-size="74">nm</text>
<text x="1231.5" y="1790" font-size="74">)</text>
<text x="1254" y="1761.7" font-size="62">2</text>
<text transform="translate(93.2,836.5) rotate(-90)" font-size="86">n</text>
<text transform="translate(63.1,784) rotate(-90)" font-size="66">2</text>
<rect x="1082" y="135.9" width="61" height="3" fill="#000"/>
<rect x="1164" y="135.9" width="61" height="3" fill="#000"/>
<rect x="1082" y="227.6" width="61" height="3" fill="#008000"/>
<rect x="1164" y="227.6" width="61" height="3" fill="#008000"/>
<rect x="1082" y="319.5" width="61" height="3" fill="#00f"/>
<rect x="1164" y="319.5" width="61" height="3" fill="#00f"/>
<circle cx="1153.4" cy="137.4" r="10" fill="#000"/>
<path transform="translate(1153,229.5)" d="M0,-13.07L11.30,6.53L-11.30,6.53Z" fill="#f00"/>
<path transform="translate(1153.4,321.6)" d="M0.00,-11.20L2.96,-4.08L10.65,-3.46L4.79,1.56L6.58,9.06L0.00,5.04L-6.58,9.06L-4.79,1.56L-10.65,-3.46L-2.96,-4.08Z" fill="#00f"/>
<text y="159" font-size="73.7"><tspan x="1242.6">As-deposited</tspan> <tspan x="1730.3">film</tspan></text>
<text y="251" font-size="73.7"><tspan x="1222.4">Annealed</tspan> <tspan x="1574.7">film</tspan> <tspan x="1727.4">at</tspan> <tspan x="1813">373</tspan> <tspan x="1953.8">K</tspan></text>
<text y="343" font-size="73.7"><tspan x="1222.4">Annealed</tspan> <tspan x="1574.7">film</tspan> <tspan x="1727.4">at</tspan> <tspan x="1808.6">423</tspan> <tspan x="1951.9">K</tspan></text>
<line x1="236.0" y1="686.0" x2="831.7" y2="735.7" stroke="#00f" stroke-width="6.5" stroke-dasharray="26.5 22" stroke-dashoffset="10.5"/><path transform="translate(216.0,684.3) rotate(4.77)" d="M2,0L37.5,-9.5L37.5,9.5Z" fill="#00f" stroke="#00f" stroke-width="3.5" stroke-linejoin="round"/>
<line x1="224.0" y1="758.6" x2="803.0" y2="797.7" stroke="#f00" stroke-width="6.5" stroke-dasharray="26.5 22" stroke-dashoffset="-21.0"/><path transform="translate(204.0,757.3) rotate(3.86)" d="M2,0L37.5,-9.5L37.5,9.5Z" fill="#f00" stroke="#f00" stroke-width="3.5" stroke-linejoin="round"/>
<line x1="238.3" y1="922.6" x2="1400.0" y2="977.0" stroke="#000" stroke-width="6.5" stroke-dasharray="26.5 22" stroke-dashoffset="-19.2"/><path transform="translate(218.3,921.7) rotate(2.68)" d="M2,0L37.5,-9.5L37.5,9.5Z" fill="#000" stroke="#000" stroke-width="3.5" stroke-linejoin="round"/>
</svg></body></html>
